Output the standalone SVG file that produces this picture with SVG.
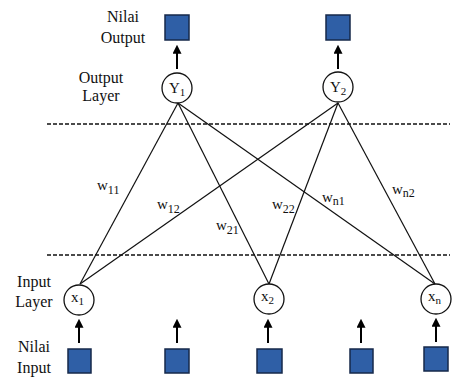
<svg xmlns="http://www.w3.org/2000/svg" width="453" height="378" viewBox="0 0 453 378">
  <style>
    .lbl { font-family: "Liberation Serif", "Times New Roman", serif; font-size: 16px; fill: #111; }
    .nd { font-family: "Liberation Serif", "Times New Roman", serif; font-size: 15px; fill: #111; }
    .sub { font-size: 11px; }
    .wt { font-family: "Liberation Serif", "Times New Roman", serif; font-size: 15px; fill: #111; }
    .wsub { font-size: 12px; }
    .neuron { fill: #fff; stroke: #111; stroke-width: 1.3; }
    .val { fill: #2f5fa6; stroke: #16284a; stroke-width: 1.5; }
    .edge { stroke: #111; stroke-width: 1.2; fill: none; }
    .sep { stroke: #111; stroke-width: 1.6; stroke-dasharray: 4 2; fill: none; }
    .flow { stroke: #000; stroke-width: 2; fill: none; marker-end: url(#head); }
  </style>
  <defs>
    <marker id="head" viewBox="0 0 10 10" refX="2" refY="5" markerWidth="4.5" markerHeight="4.5" orient="auto" markerUnits="strokeWidth">
      <path d="M0,0 L10,5 L0,10 Z" fill="#000"/>
    </marker>
  </defs>

  <rect width="453" height="378" fill="#fff"/>

  <!-- layer separators -->
  <g id="separators">
    <line class="sep" x1="47" y1="124" x2="450" y2="124"/>
    <line class="sep" x1="47" y1="255" x2="450" y2="255"/>
  </g>

  <!-- weighted connections and value arrows -->
  <g id="connectors">
    <line class="edge" x1="178" y1="103" x2="80" y2="284"/>
    <line class="edge" x1="178" y1="103" x2="269" y2="284"/>
    <line class="edge" x1="178" y1="103" x2="435" y2="284"/>
    <line class="edge" x1="338" y1="103" x2="80" y2="284"/>
    <line class="edge" x1="338" y1="103" x2="269" y2="284"/>
    <line class="edge" x1="338" y1="103" x2="435" y2="284"/>

    <line class="flow" x1="177" y1="69" x2="177" y2="52"/>
    <line class="flow" x1="338" y1="69" x2="338" y2="52"/>

    <line class="flow" x1="79" y1="343" x2="79" y2="326"/>
    <line class="flow" x1="177" y1="343" x2="177" y2="326"/>
    <line class="flow" x1="268" y1="343" x2="268" y2="326"/>
    <line class="flow" x1="361" y1="343" x2="361" y2="326"/>
    <line class="flow" x1="436" y1="342" x2="436" y2="325"/>
  </g>

  <!-- weight labels -->
  <g id="weights">
    <text class="wt" x="97" y="190">w<tspan class="wsub" dy="4">11</tspan></text>
    <text class="wt" x="157" y="209">w<tspan class="wsub" dy="4">12</tspan></text>
    <text class="wt" x="216" y="230">w<tspan class="wsub" dy="4">21</tspan></text>
    <text class="wt" x="272" y="209">w<tspan class="wsub" dy="4">22</tspan></text>
    <text class="wt" x="322" y="202">w<tspan class="wsub" dy="3">n1</tspan></text>
    <text class="wt" x="392" y="194">w<tspan class="wsub" dy="3">n2</tspan></text>
  </g>

  <!-- side labels -->
  <g id="labels">
    <text class="lbl" x="123" y="22" text-anchor="middle">Nilai</text>
    <text class="lbl" x="123" y="43" text-anchor="middle">Output</text>
    <text class="lbl" x="101" y="83" text-anchor="middle">Output</text>
    <text class="lbl" x="101" y="101" text-anchor="middle">Layer</text>
    <text class="lbl" x="34" y="287" text-anchor="middle">Input</text>
    <text class="lbl" x="34" y="307" text-anchor="middle">Layer</text>
    <text class="lbl" x="34" y="352" text-anchor="middle">Nilai</text>
    <text class="lbl" x="34" y="373" text-anchor="middle">Input</text>
  </g>

  <!-- output values -->
  <g id="out-value-1"><rect class="val" x="165" y="15" width="24" height="25"/></g>
  <g id="out-value-2"><rect class="val" x="326" y="15" width="24" height="25"/></g>

  <!-- output neurons -->
  <g id="node-Y1">
    <circle class="neuron" cx="177" cy="88" r="15"/>
    <text class="nd" x="169" y="93">Y<tspan class="sub" dy="3">1</tspan></text>
  </g>
  <g id="node-Y2">
    <circle class="neuron" cx="338" cy="87" r="15"/>
    <text class="nd" x="330" y="92">Y<tspan class="sub" dy="3">2</tspan></text>
  </g>

  <!-- input neurons -->
  <g id="node-x1">
    <circle class="neuron" cx="79" cy="300" r="15"/>
    <text class="nd" x="71" y="302">x<tspan class="sub" dy="3">1</tspan></text>
  </g>
  <g id="node-x2">
    <circle class="neuron" cx="269" cy="299" r="15"/>
    <text class="nd" x="261" y="301">x<tspan class="sub" dy="3">2</tspan></text>
  </g>
  <g id="node-xn">
    <circle class="neuron" cx="436" cy="299" r="15"/>
    <text class="nd" x="428" y="301">x<tspan class="sub" dy="3">n</tspan></text>
  </g>

  <!-- input values -->
  <g id="in-value-1"><rect class="val" x="68" y="349" width="23" height="24"/></g>
  <g id="in-value-2"><rect class="val" x="165" y="349" width="24" height="24"/></g>
  <g id="in-value-3"><rect class="val" x="257" y="349" width="25" height="24"/></g>
  <g id="in-value-4"><rect class="val" x="350" y="349" width="23" height="24"/></g>
  <g id="in-value-5"><rect class="val" x="424" y="347" width="24" height="24"/></g>
</svg>
